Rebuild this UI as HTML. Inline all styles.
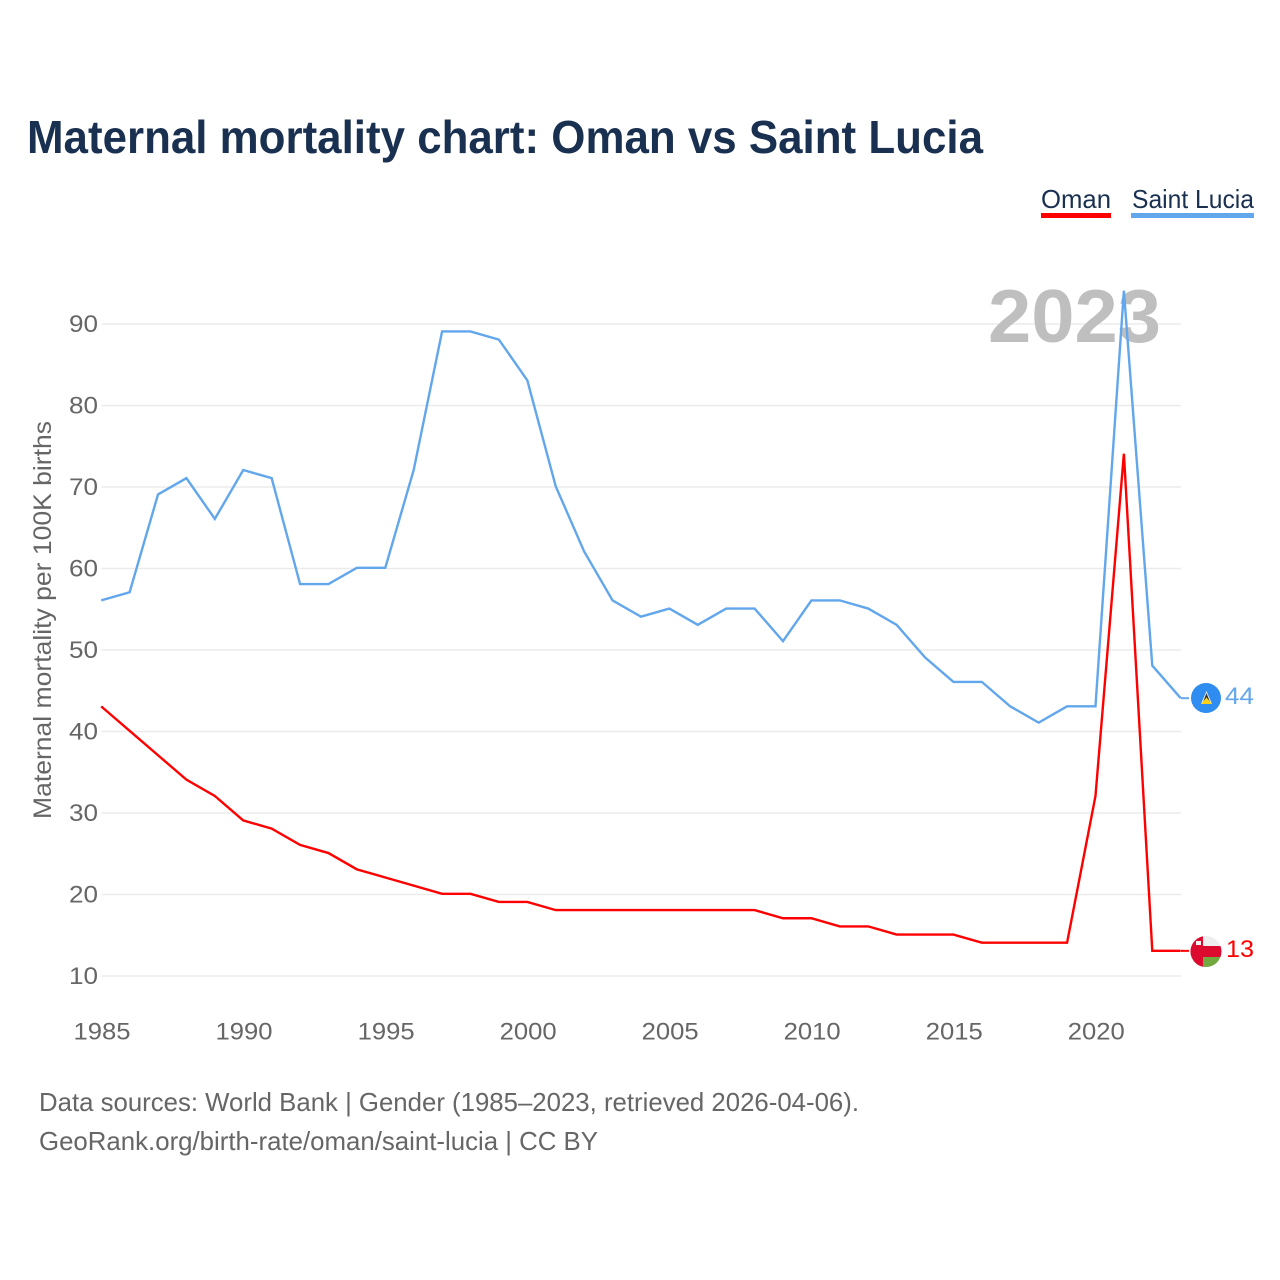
<!DOCTYPE html>
<html lang="en">
<head>
<meta charset="utf-8">
<title>Maternal mortality chart: Oman vs Saint Lucia</title>
<style>
html,body{margin:0;padding:0;background:#fff;width:1280px;height:1280px;overflow:hidden}
svg{display:block}
text{font-family:"Liberation Sans",sans-serif}
</style>
</head>
<body>
<svg id="chart" xmlns="http://www.w3.org/2000/svg" width="1280" height="1280" viewBox="0 0 1280 1280">
  <rect width="1280" height="1280" fill="#fff"/>
  <text x="27" y="153" font-size="46" font-weight="bold" fill="#1a3050" textLength="956" lengthAdjust="spacingAndGlyphs">Maternal mortality chart: Oman vs Saint Lucia</text>

  <g>
    <text x="1041" y="208" font-size="26" fill="#1a3050" textLength="70" lengthAdjust="spacingAndGlyphs">Oman</text>
    <rect x="1041" y="213" width="70" height="5" fill="#ff0000"/>
  </g>
  <g>
    <text x="1132" y="208" font-size="26" fill="#1a3050" textLength="122" lengthAdjust="spacingAndGlyphs">Saint Lucia</text>
    <rect x="1131" y="213" width="123" height="5" fill="#62a6ec"/>
  </g>

  <g id="grid"></g>
  <g id="yticks"></g>
  <g id="xticks"></g>
  <text transform="translate(51,620) rotate(-90)" text-anchor="middle" font-size="25" fill="#666" textLength="398" lengthAdjust="spacingAndGlyphs">Maternal mortality per 100K births</text>

  <text x="988" y="342" font-size="75" font-weight="bold" fill="#bfbfbf" textLength="173" lengthAdjust="spacingAndGlyphs">2023</text>

  <g id="series"></g>

  <g>
    <circle cx="1206" cy="698" r="15" fill="#2f8cf0"/>
    <polygon points="1206.5,691 1212,704 1201,704" fill="#f4f4f4"/>
    <polygon points="1206.5,693 1210,702 1203,702" fill="#333"/>
    <polygon points="1206.5,697.5 1212,704 1201,704" fill="#fcd116"/>
  </g>
  <g>
    <clipPath id="omanClip"><circle cx="1206" cy="951.5" r="15.5"/></clipPath>
    <g clip-path="url(#omanClip)">
      <rect x="1190" y="936" width="32" height="10" fill="#eeeeee"/>
      <rect x="1190" y="946" width="32" height="11" fill="#db0a2e"/>
      <rect x="1190" y="957" width="32" height="11" fill="#72a83f"/>
      <rect x="1190" y="936" width="13" height="32" fill="#db0a2e"/>
      <rect x="1196" y="941" width="5" height="4" fill="#f2f2f2"/>
    </g>
  </g>
  <text id="lucia-end" x="1225" y="704" font-size="24" fill="#62a6ec" textLength="29" lengthAdjust="spacingAndGlyphs"></text>
  <text id="oman-end" x="1226" y="957" font-size="24" fill="#ff0000" textLength="28" lengthAdjust="spacingAndGlyphs"></text>

  <text x="39" y="1111" font-size="26" fill="#666" textLength="820" lengthAdjust="spacingAndGlyphs">Data sources: World Bank | Gender (1985–2023, retrieved 2026-04-06).</text>
  <text x="39" y="1150" font-size="26" fill="#666" textLength="559" lengthAdjust="spacingAndGlyphs">GeoRank.org/birth-rate/oman/saint-lucia | CC BY</text>
</svg>
<script>
const years = [1985,1986,1987,1988,1989,1990,1991,1992,1993,1994,1995,1996,1997,1998,1999,2000,2001,2002,2003,2004,2005,2006,2007,2008,2009,2010,2011,2012,2013,2014,2015,2016,2017,2018,2019,2020,2021,2022,2023];
const saintLucia = [56,57,69,71,66,72,71,58,58,60,60,72,89,89,88,83,70,62,56,54,55,53,55,55,51,56,56,55,53,49,46,46,43,41,43,43,94,48,44];
const oman = [43,40,37,34,32,29,28,26,25,23,22,21,20,20,19,19,18,18,18,18,18,18,18,18,17,17,16,16,15,15,15,14,14,14,14,32,74,13,13];
const yTickLabels = [10,20,30,40,50,60,70,80,90];
const xTickLabels = [1985,1990,1995,2000,2005,2010,2015,2020];

const NS = 'http://www.w3.org/2000/svg';
function xScale(year){ return 101.5 + (year - 1985) * (1181 - 101.5) / 38; }
function yScale(v){ return 976 - (v - 10) * (976 - 324) / 80; }
function make(tag, attrs, parent){
  const el = document.createElementNS(NS, tag);
  for (const k in attrs) el.setAttribute(k, attrs[k]);
  parent.appendChild(el);
  return el;
}

const grid = document.getElementById('grid');
const yticks = document.getElementById('yticks');
const xticks = document.getElementById('xticks');
const series = document.getElementById('series');

yTickLabels.forEach(function(t){
  const line = make('line', {x1:101.5, x2:1181, y1:yScale(t), y2:yScale(t), stroke:'#ebebeb', 'stroke-width':1.5}, grid);
  
  
  const label = make('text', {x:98, y:yScale(t)+8, 'text-anchor':'end', 'font-size':24, fill:'#666', textLength:29, lengthAdjust:'spacingAndGlyphs'}, yticks);
  
  
  label.textContent = t;
});

xTickLabels.forEach(function(t){
  const label = make('text', {x:xScale(t)+0.5, y:1039.5, 'text-anchor':'middle', 'font-size':24, fill:'#666', textLength:57, lengthAdjust:'spacingAndGlyphs'}, xticks);
  
  
  label.textContent = t;
});

function drawSeries(values, color, name){
  const pts = values.map(function(v, i){ return (xScale(years[i]) - 0.3).toFixed(2) + ',' + (yScale(v) - 0.7).toFixed(2); });
  const last = values[values.length - 1];
  const line = make('polyline', {points:pts.join(' '), fill:'none', stroke:color, 'stroke-width':2.4, 'stroke-linejoin':'miter'}, series);
  
  
  const lead = make('line', {x1:xScale(years[years.length-1]), x2:1189, y1:yScale(last) - 0.7, y2:yScale(last) - 0.7, stroke:color, 'stroke-width':2}, series);
  
  
}
drawSeries(saintLucia, '#62a6ec', 'saint-lucia');
drawSeries(oman, '#ff0000', 'oman');

document.getElementById('lucia-end').textContent = saintLucia[saintLucia.length - 1];
document.getElementById('oman-end').textContent = oman[oman.length - 1];
</script>
</body>
</html>
